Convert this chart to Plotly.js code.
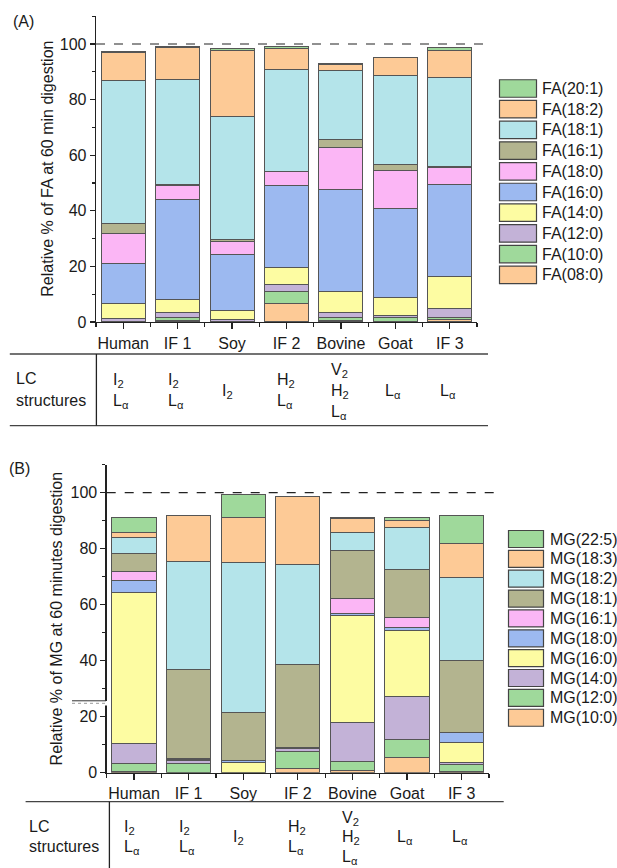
<!DOCTYPE html>
<html>
<head>
<meta charset="utf-8">
<script src="https://cdn.plot.ly/plotly-3.0.1.min.js"></script>
<style>html,body{margin:0;padding:0;background:#fff;}#chart{width:617px;height:868px;}</style>
</head>
<body>
<div id="chart"></div>
<script>
// ---------- DATA ----------
const categories = ['Human', 'IF 1', 'Soy', 'IF 2', 'Bovine', 'Goat', 'IF 3'];

// Panel A: relative % of FA at 60 min digestion (stack order bottom -> top)
const faNames = ['FA(08:0)', 'FA(10:0)', 'FA(12:0)', 'FA(14:0)', 'FA(16:0)', 'FA(18:0)', 'FA(16:1)', 'FA(18:1)', 'FA(18:2)', 'FA(20:1)'];
const fa08_0 = [0.0, 0.4, 0.1, 6.7, 0.4, 0.2, 1.0];
const fa10_0 = [0.2, 1.2, 0.1, 4.2, 1.3, 1.4, 0.7];
const fa12_0 = [0.9, 1.8, 0.7, 2.6, 1.6, 0.7, 3.1];
const fa14_0 = [5.6, 4.8, 3.4, 6.2, 7.5, 6.6, 11.5];
const fa16_0 = [14.4, 35.7, 20.0, 29.3, 36.9, 32.1, 33.2];
const fa18_0 = [10.8, 5.1, 4.7, 5.1, 14.9, 13.6, 6.0];
const fa16_1 = [3.4, 0.5, 0.6, 0.2, 3.0, 2.1, 0.4];
const fa18_1 = [51.4, 37.8, 44.3, 36.5, 24.9, 32.0, 32.1];
const fa18_2 = [10.3, 11.3, 23.6, 7.6, 2.3, 6.3, 9.8];
const fa20_1 = [0.2, 0.4, 1.0, 0.7, 0.3, 0.0, 0.9];
const faValues = [fa08_0, fa10_0, fa12_0, fa14_0, fa16_0, fa18_0, fa16_1, fa18_1, fa18_2, fa20_1];

// Panel B: relative % of MG at 60 minutes digestion (stack order bottom -> top)
const mgNames = ['MG(10:0)', 'MG(12:0)', 'MG(14:0)', 'MG(16:0)', 'MG(18:0)', 'MG(16:1)', 'MG(18:1)', 'MG(18:2)', 'MG(18:3)', 'MG(22:5)'];
const mg10_0 = [0.3, 0.0, 0.0, 1.5, 0.8, 5.5, 0.3];
const mg12_0 = [3.0, 3.3, 0.0, 6.0, 3.2, 6.2, 2.8];
const mg14_0 = [7.2, 1.0, 0.0, 1.2, 14.0, 15.4, 0.7];
const mg16_0 = [53.8, 0.3, 3.6, 0.2, 38.1, 23.6, 6.9];
const mg18_0 = [4.5, 0.3, 0.9, 0.0, 0.7, 1.2, 3.6];
const mg16_1 = [3.0, 0.2, 0.0, 0.0, 5.4, 3.5, 0.0];
const mg18_1 = [6.5, 31.6, 16.9, 29.6, 17.1, 17.2, 25.9];
const mg18_2 = [5.7, 38.7, 53.7, 36.0, 6.4, 14.8, 29.4];
const mg18_3 = [1.7, 16.3, 16.1, 24.3, 5.1, 2.8, 12.3];
const mg22_5 = [5.5, 0.0, 8.2, 0.0, 0.3, 1.0, 10.1];
const mgValues = [mg10_0, mg12_0, mg14_0, mg16_0, mg18_0, mg16_1, mg18_1, mg18_2, mg18_3, mg22_5];

// LC structures table
const lcStructures = [
  ['I<sub>2</sub>', 'L<sub>α</sub>'],
  ['I<sub>2</sub>', 'L<sub>α</sub>'],
  ['I<sub>2</sub>'],
  ['H<sub>2</sub>', 'L<sub>α</sub>'],
  ['V<sub>2</sub>', 'H<sub>2</sub>', 'L<sub>α</sub>'],
  ['L<sub>α</sub>'],
  ['L<sub>α</sub>']
];
const tableHeader = ['LC', 'structures'];
const yTitleA = 'Relative % of FA at 60 min digestion';
const yTitleB = 'Relative % of MG at 60 minutes digestion';

// ---------- STYLE ----------
const W = 617, H = 868;
const C = {
  green: '#9fd99b', peach: '#fdca96', cyan: '#b4e4ea', olive: '#b3b48f',
  pink: '#fbb6f5', blue: '#9cb9f0', yellow: '#fdfca2', lav: '#c3b2d7'
};
const seriesColors = [C.peach, C.green, C.lav, C.yellow, C.blue, C.pink, C.olive, C.cyan, C.peach, C.green];
const FONT = 'Liberation Sans, Arial, sans-serif';
const TXT = '#1a1a1a';
const px = v => v / W;
const py = v => 1 - v / H;
const xIdx = categories.map((c, i) => i);

const traces = [];
faValues.forEach((vals, k) => {
  traces.push({
    type: 'bar', x: xIdx, y: vals, name: faNames[k], xaxis: 'x', yaxis: 'y',
    width: 0.81, marker: {color: seriesColors[k], line: {color: '#555', width: 1}},
    showlegend: false, hoverinfo: 'skip'
  });
});
mgValues.forEach((vals, k) => {
  traces.push({
    type: 'bar', x: xIdx, y: vals, name: mgNames[k], xaxis: 'x2', yaxis: 'y2',
    width: 0.81, marker: {color: seriesColors[k], line: {color: '#555', width: 1}},
    showlegend: false, hoverinfo: 'skip'
  });
});

function xAxis(domain, anchor) {
  return {
    domain: domain, anchor: anchor, range: [-0.5, categories.length - 0.5],
    tickmode: 'array', tickvals: xIdx, ticktext: categories,
    ticks: 'outside', ticklen: 6, tickwidth: 1.2, tickcolor: '#222',
    minor: {tickmode: 'linear', tick0: 0.5, dtick: 1, ticks: 'outside', ticklen: 4, tickwidth: 1.2, tickcolor: '#222'},
    showline: true, linecolor: '#222', linewidth: 1.3, showgrid: false, zeroline: false,
    tickfont: {family: FONT, size: 16, color: TXT}, fixedrange: true
  };
}
function yAxis(domain, anchor) {
  return {
    domain: domain, anchor: anchor, range: [0, 110],
    tickmode: 'linear', tick0: 0, dtick: 20,
    ticks: 'outside', ticklen: 5, tickwidth: 1.2, tickcolor: '#222',
    minor: {tickmode: 'linear', tick0: 10, dtick: 20, ticks: 'outside', ticklen: 3, tickwidth: 1.2, tickcolor: '#222'},
    showline: true, linecolor: '#222', linewidth: 1.3, showgrid: false, zeroline: false,
    tickfont: {family: FONT, size: 16, color: TXT}, fixedrange: true
  };
}

const shapes = [];
const annotations = [];

// dashed 100% reference lines
shapes.push({type: 'line', xref: 'paper', yref: 'y', x0: px(96), x1: px(488), y0: 100, y1: 100,
  line: {color: '#222', width: 1.2, dash: 'dash'}});
shapes.push({type: 'line', xref: 'paper', yref: 'y2', x0: px(106.7), x1: px(500), y0: 100, y1: 100,
  line: {color: '#222', width: 1.2, dash: 'dash'}});

// axis break on panel B
shapes.push({type: 'rect', xref: 'paper', yref: 'paper', x0: px(104), x1: px(110), y0: py(705.5), y1: py(701),
  line: {width: 0}, fillcolor: '#ffffff', layer: 'above'});
shapes.push({type: 'line', xref: 'paper', yref: 'paper', x0: px(72), x1: px(105), y0: py(703.3), y1: py(703.3),
  line: {color: '#9a9a9a', width: 1, dash: 'dot'}, layer: 'above'});
shapes.push({type: 'line', xref: 'paper', yref: 'paper', x0: px(72), x1: px(106), y0: py(700.8), y1: py(700.8),
  line: {color: '#333', width: 1}, layer: 'above'});

// legends (top item = last series)
function legend(names, boxX0, boxX1, textX, yTop, step, boxH) {
  const n = names.length;
  for (let i = 0; i < n; i++) {
    const k = n - 1 - i;
    const cy = yTop + i * step;
    shapes.push({type: 'rect', xref: 'paper', yref: 'paper', x0: px(boxX0), x1: px(boxX1),
      y0: py(cy + boxH / 2), y1: py(cy - boxH / 2), fillcolor: seriesColors[k], line: {color: '#444', width: 1.2}});
    annotations.push({xref: 'paper', yref: 'paper', x: px(textX), y: py(cy), xanchor: 'left', yanchor: 'middle',
      text: names[k], showarrow: false, font: {family: FONT, size: 16, color: TXT}});
  }
}
legend(faNames, 499.5, 536.5, 540, 88.5, 20.7, 17.5);
legend(mgNames, 508.5, 543.5, 547.5, 539, 19.86, 17);

// y titles
annotations.push({xref: 'paper', yref: 'paper', x: px(46.7), y: py(169), textangle: -90, xanchor: 'center', yanchor: 'middle',
  text: yTitleA, showarrow: false, font: {family: FONT, size: 16, color: TXT}});
annotations.push({xref: 'paper', yref: 'paper', x: px(56.7), y: py(618.7), textangle: -90, xanchor: 'center', yanchor: 'middle',
  text: yTitleB, showarrow: false, font: {family: FONT, size: 16, color: TXT}});

// panel labels
annotations.push({xref: 'paper', yref: 'paper', x: px(11), y: py(22), xanchor: 'left', yanchor: 'middle',
  text: '(A)', showarrow: false, font: {family: FONT, size: 16, color: TXT}});
annotations.push({xref: 'paper', yref: 'paper', x: px(7), y: py(469), xanchor: 'left', yanchor: 'middle',
  text: '(B)', showarrow: false, font: {family: FONT, size: 16, color: TXT}});

// tables
function table(xref, lineX0, lineX1, topY, bottomY, vX, headX, headY1, headY2, centerY, lineStep, drawBottom) {
  shapes.push({type: 'line', xref: 'paper', yref: 'paper', x0: px(lineX0), x1: px(lineX1), y0: py(topY), y1: py(topY),
    line: {color: '#444', width: 1.3}});
  if (drawBottom) {
    shapes.push({type: 'line', xref: 'paper', yref: 'paper', x0: px(lineX0), x1: px(lineX1), y0: py(bottomY), y1: py(bottomY),
      line: {color: '#444', width: 1.3}});
  }
  shapes.push({type: 'line', xref: 'paper', yref: 'paper', x0: px(vX), x1: px(vX), y0: py(topY), y1: py(bottomY),
    line: {color: '#222', width: 1.3}});
  annotations.push({xref: 'paper', yref: 'paper', x: px(headX), y: py(headY1), xanchor: 'left', yanchor: 'middle',
    text: tableHeader[0], showarrow: false, font: {family: FONT, size: 16, color: TXT}});
  annotations.push({xref: 'paper', yref: 'paper', x: px(headX), y: py(headY2), xanchor: 'left', yanchor: 'middle',
    text: tableHeader[1], showarrow: false, font: {family: FONT, size: 16, color: TXT}});
  lcStructures.forEach((lines, i) => {
    lines.forEach((t, j) => {
      const yy = centerY + (j - (lines.length - 1) / 2) * lineStep;
      annotations.push({xref: xref, yref: 'paper', x: i, xshift: -12, y: py(yy), xanchor: 'left', yanchor: 'middle',
        text: t, showarrow: false, font: {family: FONT, size: 16, color: TXT}});
    });
  });
}
table('x', 9.8, 488, 354, 425.7, 96.4, 14, 378.5, 400, 391, 21, true);
table('x2', 25.6, 503.7, 801.7, 868, 109.4, 27, 826.7, 846.5, 837.5, 19.5, false);

const layout = {
  width: W, height: H,
  margin: {l: 0, r: 0, t: 0, b: 0},
  paper_bgcolor: '#fff', plot_bgcolor: 'rgba(0,0,0,0)',
  barmode: 'stack', showlegend: false,
  font: {family: FONT, size: 16, color: TXT},
  xaxis: xAxis([96 / W, 477 / W], 'y'),
  yaxis: yAxis([1 - 322 / H, 1 - 16.2 / H], 'x'),
  xaxis2: xAxis([106.7 / W, 489 / W], 'y2'),
  yaxis2: yAxis([1 - 772.7 / H, 1 - 464.7 / H], 'x2'),
  shapes: shapes,
  annotations: annotations
};

Plotly.newPlot('chart', traces, layout, {staticPlot: true, displayModeBar: false});
</script>
</body>
</html>
